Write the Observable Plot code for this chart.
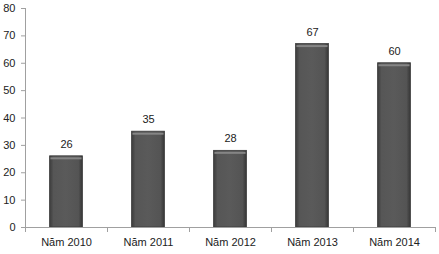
<!DOCTYPE html>
<html>
<head>
<meta charset="utf-8">
<script src="https://cdn.jsdelivr.net/npm/d3@7"></script>
<script src="https://cdn.jsdelivr.net/npm/@observablehq/plot@0.6"></script>
<style>
  html, body { margin: 0; padding: 0; background: #fff; }
  svg { display: block; }
</style>
</head>
<body>
<div id="chart"></div>
<script>
const categories = ["Năm 2010", "Năm 2011", "Năm 2012", "Năm 2013", "Năm 2014"];
const values = [26, 35, 28, 67, 60];
const yTicks = [0, 10, 20, 30, 40, 50, 60, 70, 80];

const data = categories.map((c, i) => ({cat: c, i, value: values[i]}));
const axisGray = "#a0a0a0";
const textColor = "#222";

const chart = Plot.plot({
  width: 439,
  height: 254,
  marginLeft: 25,
  marginRight: 4,
  marginTop: 8,
  marginBottom: 27,
  style: {fontFamily: "'Liberation Sans', Arial, sans-serif", fontSize: "11px", background: "#fff"},
  x: {domain: [0, categories.length], axis: null},
  y: {domain: [0, 80], axis: null},
  marks: [
    Plot.rectY(data, {x1: d => d.i + 0.3, x2: d => d.i + 0.7, y: "value", fill: "url(#barGrad)", stroke: "#3a3a3a", strokeWidth: 0.8}),
    Plot.ruleY(data, {y: "value", x1: d => d.i + 0.31, x2: d => d.i + 0.69, dy: 2, stroke: "#858585", strokeWidth: 2}),
    Plot.text(data, {x: d => d.i + 0.5, y: "value", text: d => String(d.value), dy: -12, fill: textColor}),
    Plot.ruleX([0], {stroke: axisGray}),
    Plot.ruleY([0], {stroke: axisGray}),
    Plot.axisY({ticks: yTicks, tickSize: 4, tickFormat: () => "", stroke: axisGray, label: null}),
    Plot.axisY({ticks: yTicks, tickSize: 0, tickPadding: 10, fill: textColor, label: null}),
    Plot.axisX({ticks: d3.range(0, categories.length + 1), tickSize: 5, tickFormat: () => "", stroke: axisGray, label: null}),
    Plot.axisX({ticks: categories.map((c, i) => i + 0.5), tickSize: 0, tickPadding: 11, tickFormat: d => categories[Math.floor(d)], fill: textColor, label: null})
  ]
});

const svg = d3.select(chart);
const defs = svg.insert("defs", ":first-child");
const g = defs.append("linearGradient").attr("id", "barGrad").attr("x1", "0").attr("x2", "1").attr("y1", "0").attr("y2", "0");
[["0%", "#3c3c3c"], ["12%", "#565656"], ["50%", "#5a5a5a"], ["88%", "#545454"], ["100%", "#363636"]]
  .forEach(([o, c]) => g.append("stop").attr("offset", o).attr("stop-color", c));

document.getElementById("chart").appendChild(chart);
</script>
</body>
</html>
